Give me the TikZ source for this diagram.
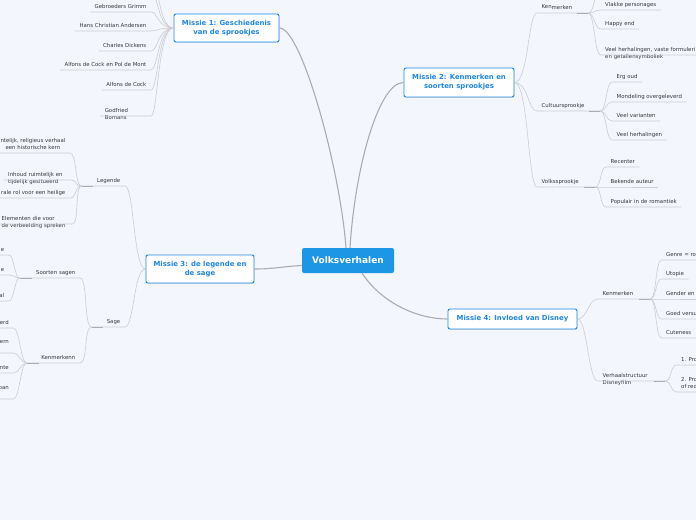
\documentclass[tikz,border=0pt]{standalone}
\usepackage{fontspec}
\setmainfont{DejaVu Sans}
\usetikzlibrary{shadows}

\definecolor{achtergrond}{RGB}{243,246,253}
\definecolor{kernblauw}{RGB}{30,150,230}
\definecolor{missieblauw}{RGB}{30,134,228}
\definecolor{tekstgrijs}{RGB}{55,55,60}
\definecolor{takgrijs}{RGB}{204,205,210}
\definecolor{stamgrijs}{RGB}{172,172,176}

\tikzset{
  kern/.style={fill=kernblauw, text=white, rounded corners=2pt,
    minimum width=92pt, minimum height=25pt,
    font=\bfseries\fontsize{9}{10}\selectfont},
  missie/.style={draw=missieblauw, line width=0.9pt, fill=white,
    text=missieblauw, rounded corners=2pt, align=center, inner sep=0pt,
    font=\bfseries\fontsize{6.9}{8.8}\selectfont,
    drop shadow={shadow xshift=0.5pt, shadow yshift=-0.8pt, opacity=0.2}},
  blad/.style={text=tekstgrijs, inner xsep=4.5pt, inner ysep=3.2pt,
    text depth=0pt, font=\fontsize{5.4}{6.8}\selectfont},
  tak/.style={draw=takgrijs, line width=0.6pt},
  stam/.style={draw=stamgrijs, line width=1.1pt},
  stomp/.style={draw=stamgrijs, line width=1pt},
}

\begin{document}
\begin{tikzpicture}[x=1pt, y=-1pt]
    \useasboundingbox (0,0) rectangle (696,520);
    \clip (0,0) rectangle (696,520);
    \fill[achtergrond] (0,0) rectangle (696,520);

    % Hoofdknopen
    \node[kern] (volk) at (348,260.5) {Volksverhalen};
    \node[missie, minimum width=105pt, minimum height=28pt] (m1) at (226.5,28)
        {Missie 1: Geschiedenis\\van de sprookjes};
    \node[missie, minimum width=110pt, minimum height=29pt] (m2) at (459,82.5)
        {Missie 2: Kenmerken en\\soorten sprookjes};
    \node[missie, minimum width=108pt, minimum height=28pt] (m3) at (200,269)
        {Missie 3: de legende en\\de sage};
    \node[missie, minimum width=129pt, minimum height=20pt] (m4) at (512.5,319)
        {Missie 4: Invloed van Disney};

    % Takken vanuit het midden
    \draw[stam] ([xshift=-2pt]volk.north) .. controls +(-6,-80) and +(22,0) .. (m1.east);
    \draw[stam] ([xshift=2pt]volk.north) .. controls +(5,-80) and +(-25,0) .. (m2.west);
    \draw[stam] ([yshift=-5pt]volk.west) .. controls +(-20,1) and +(20,0) .. (m3.east);
    \draw[stam] ([xshift=14pt]volk.south) .. controls +(20,30) and +(-30,0) .. (m4.west);

    % Missie 1
    \foreach \n/\y/\t in {g1/12/Gebroeders Grimm, g2/31/Hans Christian Andersen,
        g3/51/Charles Dickens, g4/70/Alfons de Cock en Pol de Mont, g5/90/Alfons de Cock} {
        \node[blad, anchor=south east] (\n) at (151,\y) {\t};
        \draw[tak] (m1.west) .. controls +(-16,0) and +(7,0) .. (\n.south east) -- (\n.south west);
    }
    \node[blad, anchor=south east, text width=41.5pt, align=left] (g6) at (151,116) {Godfried\\Bomans};
    \draw[tak] (m1.west) .. controls +(-16,0) and +(7,0) .. (g6.south east) -- (g6.south west);
    \coordinate (g0a) at (151,-8);
    \coordinate (g0b) at (151,-27);
    \draw[tak] (m1.west) .. controls +(-16,0) and +(7,0) .. (g0a);
    \draw[tak] (m1.west) .. controls +(-16,0) and +(7,0) .. (g0b);

    % Missie 2
    \node[blad, anchor=south west, text width=42pt, align=left] (ken2) at (537,13) {\raisebox{1.4pt}{Ken}merken};
    \node[blad, anchor=south west, text width=54pt, align=left] (cul) at (537,111) {Cultuursprookje};
    \node[blad, anchor=south west, text width=49pt, align=left] (vol) at (537,187) {Volkssprookje};
    \foreach \n in {ken2, cul, vol} {
        \draw[tak] (m2.east) .. controls +(14,0) and +(-9,0) .. (\n.south west) -- (\n.south east);
        \draw[stomp] (\n.south east) -- ++(-11,0);
    }
    % kenmerken
    \coordinate (ken0) at (600.5,-10);
    \draw[tak] (ken2.south east) .. controls +(6,0) and +(-6,0) .. (ken0);
    \foreach \n/\y/\t in {vp/10/Vlakke personages, he/29/Happy end} {
        \node[blad, anchor=south west] (\n) at (600.5,\y) {\t};
        \draw[tak] (ken2.south east) .. controls +(6,0) and +(-6,0) .. (\n.south west) -- (\n.south east);
    }
    \node[blad, anchor=south west, text width=100pt, align=left] (vh) at (600.5,55)
        {Veel herhalingen, vaste formuleri\\en getallensymboliek};
    \draw[tak] (ken2.south east) .. controls +(6,0) and +(-6,0) .. (vh.south west) -- (vh.south east);
    % cultuursprookje
    \foreach \n/\y/\t in {eo/82/Erg oud, mo/102/Mondeling overgeleverd,
        vv/121/Veel varianten, vhl/140/Veel herhalingen} {
        \node[blad, anchor=south west] (\n) at (612,\y) {\t};
        \draw[tak] (cul.south east) .. controls +(6,0) and +(-6,0) .. (\n.south west) -- (\n.south east);
    }
    % volkssprookje
    \foreach \n/\y/\t in {re/167/Recenter, ba/187/Bekende auteur, pr/207/Populair in de romantiek} {
        \node[blad, anchor=south west] (\n) at (606,\y) {\t};
        \draw[tak] (vol.south east) .. controls +(6,0) and +(-6,0) .. (\n.south west) -- (\n.south east);
    }

    % Missie 3
    \node[blad, anchor=south east, text width=34pt, align=right] (leg) at (125,186) {Legende};
    \node[blad, anchor=south east, text width=24pt, align=right] (sag) at (125,327) {Sage};
    \foreach \n in {leg, sag} {
        \draw[tak] (m3.west) .. controls +(-12,0) and +(9,0) .. (\n.south east) -- (\n.south west);
        \draw[stomp] (\n.south west) -- ++(11,0);
    }
    % legende
    \node[blad, anchor=south east, align=center] (le1) at (70,153)
        {ntelijk, religieus verhaal\\een historische kern};
    \node[blad, anchor=south west, text width=57.5pt, align=left] (le2) at (3.5,180)
        {Inhoud ruimtelijk en\\tijdelijk gesitueerd};
    \node[blad, anchor=south east] (le3) at (70,198) {rale rol voor een heilige};
    \node[blad, anchor=south west, text width=66pt, align=left] (le4) at (-3,224)
        {Elementen die voor\\de verbeelding spreken};
    \foreach \n in {le1, le2, le3, le4}
        \draw[tak] (leg.south west) .. controls +(-7,0) and +(7,0) .. (\n.south east) -- (\n.south west);
    % sage
    \node[blad, anchor=south east, text width=51pt, align=right] (soo) at (80,278) {Soorten sagen};
    \node[blad, anchor=south east, text width=44pt, align=right] (kmk) at (80,363) {Kenmerkenn};
    \foreach \n in {soo, kmk} {
        \draw[tak] (sag.south west) .. controls +(-8,0) and +(8,0) .. (\n.south east) -- (\n.south west);
        \draw[stomp] (\n.south west) -- ++(12,0);
    }
    \foreach \n/\y/\t in {so1/255/e, so2/275/e, so3/301/al} {
        \node[blad, anchor=south east] (\n) at (9,\y) {\t};
        \draw[tak] (soo.south west) .. controls +(-5,0) and +(5,0) .. (\n.south east) -- (\n.south west);
    }
    \foreach \n/\y/\s/\t in {km1/328/3.2pt/erd, km2/353/9.2pt/ern, km3/373/3.2pt/nte, km4/399/9.2pt/ban} {
        \node[blad, anchor=south east, inner ysep=\s] (\n) at (13.5,\y) {\t};
        \draw[tak] (kmk.south west) .. controls +(-6,0) and +(6,0) .. (\n.south east) -- (\n.south west);
    }

    % Missie 4
    \node[blad, anchor=south west, text width=43pt, align=left] (ken4) at (598,299) {Kenmerken};
    \node[blad, anchor=south west, text width=58pt, align=left] (ver) at (598,381) {Verhaalstructuur\\Disneyfilm};
    \foreach \n in {ken4, ver} {
        \draw[tak] (m4.east) .. controls +(10,0) and +(-10,0) .. (\n.south west) -- (\n.south east);
        \draw[stomp] (\n.south east) -- ++(-11,0);
    }
    \foreach \n/\y/\t in {ge4/260/Genre = ro, ut/279/Utopie, gen/299/Gender en,
        gv/319/Goed versu, cu/338/Cuteness} {
        \node[blad, anchor=south west] (\n) at (661.5,\y) {\t};
        \draw[tak] (ken4.south east) .. controls +(6,0) and +(-6,0) .. (\n.south west) -- (\n.south east);
    }
    \node[blad, anchor=south west] (p1) at (676.5,365) {1. Pro};
    \node[blad, anchor=south west, align=left] (p2) at (676.5,392) {2. Pro\\of red};
    \foreach \n in {p1, p2}
        \draw[tak] (ver.south east) .. controls +(6,0) and +(-6,0) .. (\n.south west) -- (\n.south east);
\end{tikzpicture}
\end{document}
